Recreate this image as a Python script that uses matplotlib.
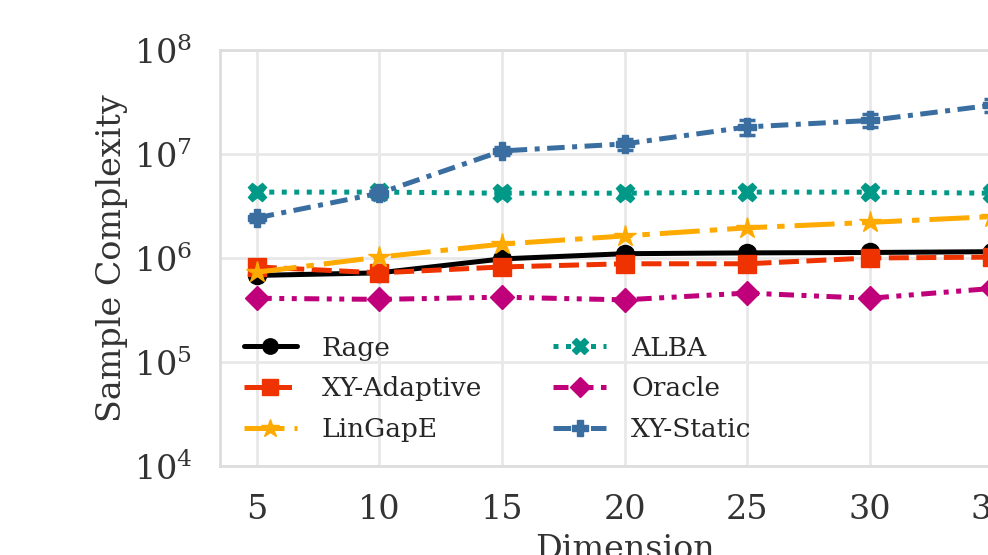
import matplotlib
matplotlib.use("Agg")
import matplotlib.pyplot as plt
import seaborn as sns

dims = [5, 10, 15, 20, 25, 30, 35]

rage = [6.8e5, 7.2e5, 9.8e5, 1.1e6, 1.12e6, 1.13e6, 1.15e6]
xy_adaptive = [8.2e5, 7.2e5, 8.2e5, 8.8e5, 8.8e5, 1.0e6, 1.02e6]
lingape = [7.3e5, 1.02e6, 1.36e6, 1.63e6, 1.95e6, 2.2e6, 2.5e6]
alba = [4.3e6, 4.3e6, 4.2e6, 4.2e6, 4.3e6, 4.3e6, 4.2e6]
oracle = [4.1e5, 4.0e5, 4.2e5, 3.96e5, 4.6e5, 4.1e5, 5.1e5]
xy_static = [2.43e6, 4.2e6, 1.07e7, 1.25e7, 1.82e7, 2.1e7, 2.95e7]
xy_static_err = [2.0e5, 5.0e5, 1.0e6, 1.5e6, 3.0e6, 3.0e6, 4.0e6]

sns.set_theme(style="whitegrid")
plt.rcParams['font.family'] = ['DejaVu Serif']

fig = plt.figure(figsize=(9.88, 5.55), dpi=100)
ax = fig.add_axes([220 / 988, 89 / 555, 809 / 988, 416 / 555])

lw = 3.6
ms = 13

ax.plot(dims, rage, color='black', ls='-', marker='o', lw=lw, ms=ms, label='Rage')
ax.plot(dims, xy_adaptive, color='#EE3300', ls=(0, (4, 1.5)), marker='s', lw=lw, ms=ms,
        label='XY-Adaptive')
ax.plot(dims, lingape, color='#FFAA00', ls=(0, (8, 2, 1.5, 2)), marker='*', lw=lw, ms=ms + 3,
        label='LinGapE')
ax.plot(dims, alba, color='#009988', ls=(0, (1, 1.5)), marker='X', lw=lw, ms=ms,
        label='ALBA')
ax.plot(dims, oracle, color='#C0007A', ls=(0, (3, 1.5, 1, 1.5, 1, 1.5)), marker='D', lw=lw,
        ms=ms - 1, label='Oracle')
ax.plot(dims, xy_static, color='#3A6EA0', ls=(0, (3.5, 1.5, 1, 1.5)), marker='P', lw=lw,
        ms=ms, label='XY-Static')
ax.errorbar(dims, xy_static, yerr=xy_static_err, fmt='none', ecolor='#3A6EA0',
            capsize=6, capthick=2.5, elinewidth=2)

ax.set_yscale('log')
ax.set_ylim(1e4, 1e8)
ax.set_xlim(3.5, 36.5)
ax.set_xticks(dims)
ax.set_yticks([1e4, 1e5, 1e6, 1e7, 1e8])
ax.minorticks_off()
ax.tick_params(axis='both', labelsize=24, colors='#333333', pad=14)
ax.set_xlabel('Dimension', fontsize=24, color='#333333', labelpad=6)
ax.set_ylabel('Sample Complexity', fontsize=24, color='#333333')

for s in ax.spines.values():
    s.set_color('#dddddd')
    s.set_linewidth(2)
ax.grid(color='#e8e8e8', lw=2)

ax.legend(loc='lower left', ncol=2, frameon=False, fontsize=19, handlelength=2.0,
          handletextpad=0.95, columnspacing=2.7, labelspacing=0.6, markerscale=0.85,
          bbox_to_anchor=(0.0, 0.0))

plt.savefig('out.png', dpi=100)
